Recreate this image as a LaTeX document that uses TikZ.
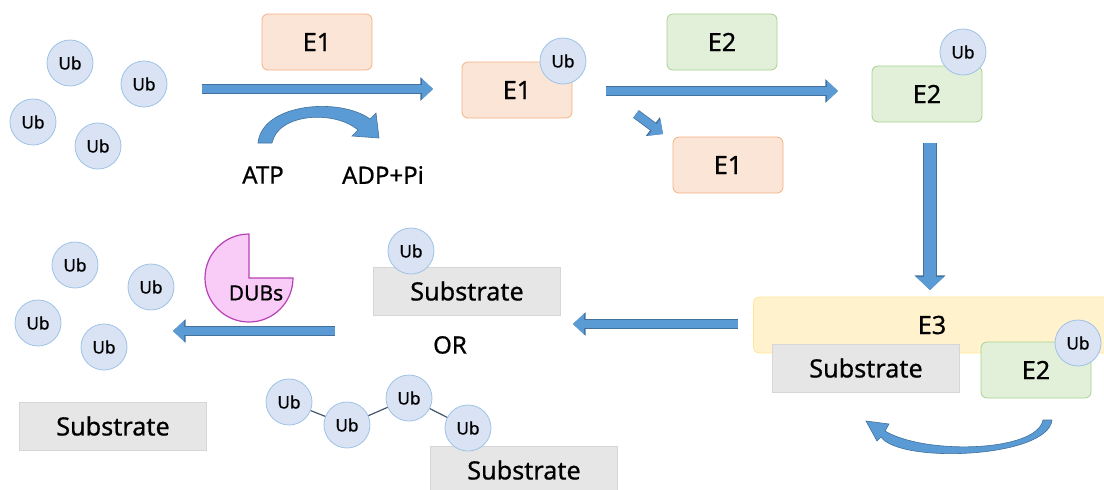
\documentclass[tikz,border=0pt]{standalone}
\usepackage{fontspec}
\setmainfont{Noto Sans}[FakeBold=0.7]
\usetikzlibrary{arrows.meta}

\definecolor{ub_fill}{HTML}{DAE3F3}
\definecolor{ub_edge}{HTML}{9DC3E6}
\definecolor{e1_fill}{HTML}{FBE5D6}
\definecolor{e1_edge}{HTML}{F4B183}
\definecolor{e2_fill}{HTML}{E2F0D9}
\definecolor{e2_edge}{HTML}{A9D18E}
\definecolor{e3_fill}{HTML}{FFF2CC}
\definecolor{e3_edge}{HTML}{FFE699}
\definecolor{sub_fill}{HTML}{E7E6E6}
\definecolor{sub_edge}{HTML}{D6D6D6}
\definecolor{dub_fill}{HTML}{F8CCF6}
\definecolor{dub_edge}{HTML}{B640B6}
\definecolor{flow_fill}{HTML}{5B9BD5}
\definecolor{flow_edge}{HTML}{41719C}
\definecolor{link_col}{HTML}{44546A}

\tikzset{
	blob/.style = {
		align=center,
		inner sep=0pt,
		text centered,
		font=\fontsize{12.6}{14}\selectfont
	},
	node_ub/.style = {
		blob,
		circle,
		draw=ub_edge,
		fill=ub_fill,
		minimum size=23pt,
		font=\fontsize{8.6}{10}\selectfont
	},
	node_enz/.style = {
		blob,
		rectangle,
		rounded corners=3pt,
		minimum width=55pt,
		minimum height=28pt
	},
	node_e1/.style = {
		node_enz,
		draw=e1_edge,
		fill=e1_fill
	},
	node_e2/.style = {
		node_enz,
		draw=e2_edge,
		fill=e2_fill
	},
	node_e3/.style = {
		node_enz,
		draw=e3_edge,
		fill=e3_fill,
		minimum width=178.5pt
	},
	node_sub/.style = {
		blob,
		rectangle,
		draw=sub_edge,
		fill=sub_fill,
		minimum width=93.5pt,
		minimum height=24pt
	},
	node_txt/.style = {
		blob,
		font=\fontsize{12}{14}\selectfont
	},
	flow/.style = {
		draw=flow_fill,
		line width=4pt,
		-{Triangle[width=10pt,length=5.5pt]},
		preaction={draw=flow_edge, line width=4.8pt, -{Triangle[width=11.4pt,length=6.3pt]}}
	},
	flow_big/.style = {
		draw=flow_fill,
		line width=6pt,
		-{Triangle[width=13.5pt,length=6.5pt]},
		preaction={draw=flow_edge, line width=6.8pt, -{Triangle[width=15pt,length=7.3pt]}}
	},
	bend_arrow/.style = {
		fill=flow_fill,
		draw=flow_edge,
		line width=0.3pt
	},
	chain_link/.style = {
		draw=link_col,
		line width=0.6pt
	},
}

\begin{document}
\begin{tikzpicture}[x=0.5pt,y=-0.5pt]
\useasboundingbox (0,0) rectangle (1104,489);

% free ubiquitin
\node [node_ub] (ub_a) at (70,63) {Ub};
\node [node_ub] (ub_b) at (144,84) {Ub};
\node [node_ub] (ub_c) at (33,122) {Ub};
\node [node_ub] (ub_d) at (98,146) {Ub};

% activation by E1
\node [node_e1] (e1_free) at (317,42) {E1};
\coordinate (a1_s) at (202,89);
\coordinate (a1_e) at (433,89);
\draw [flow] (a1_s) -- (a1_e);
\node [node_txt] (atp) at (263,175) {ATP};
\node [node_txt] (adp) at (383,175) {ADP+Pi};
\path [bend_arrow] (258,143) .. controls (262,103) and (340,97) .. (370,119)
	-- (376,113) -- (379,138) -- (352,136) -- (358,130)
	.. controls (335,110) and (278,113) .. (272,143) -- cycle;

% E1~Ub
\node [node_e1] (e1_ub) at (517,90) {E1};
\node [node_ub] (ub_e1) at (563,61) {Ub};

% transfer to E2
\node [node_e2] (e2_free) at (722,42) {E2};
\coordinate (a2_s) at (606,91);
\coordinate (a2_e) at (838,91);
\draw [flow] (a2_s) -- (a2_e);
\coordinate (a3_s) at (636,114);
\coordinate (a3_e) at (663,134);
\draw [flow] (a3_s) -- (a3_e);
\node [node_e1] (e1_back) at (728,165) {E1};

% E2~Ub
\node [node_e2] (e2_ub) at (927,94) {E2};
\node [node_ub] (ub_e2) at (963,52) {Ub};
\coordinate (a4_s) at (930,143);
\coordinate (a4_e) at (930,290);
\draw [flow_big] (a4_s) -- (a4_e);

% E3 complex
\node [node_e3] (e3) at (932,325) {E3};
\node [node_sub] (sub_e3) at (866,368) {Substrate};
\node [node_e2] (e2_e3) at (1036,370) {E2};
\node [node_ub] (ub_e3) at (1078,343) {Ub};
\path [bend_arrow] (1052,420) .. controls (1048,458) and (900,464) .. (881,437)
	-- (877,441) -- (866,421) -- (889,424) -- (885,431)
	.. controls (925,455) and (1037,452) .. (1043,420) -- cycle;

% mono- or poly-ubiquitinated substrate
\coordinate (a5_s) at (738,324);
\coordinate (a5_e) at (573,324);
\draw [flow] (a5_s) -- (a5_e);
\node [node_sub] (sub_mono) at (467,291) {Substrate};
\node [node_ub] (ub_mono) at (411,251) {Ub};
\node [node_txt] (or) at (450,345) {OR};
\node [node_sub] (sub_poly) at (524,470) {Substrate};
\node [node_ub] (ub_p1) at (289,402) {Ub};
\node [node_ub] (ub_p2) at (347,425) {Ub};
\node [node_ub] (ub_p3) at (409,398) {Ub};
\node [node_ub] (ub_p4) at (468,428) {Ub};
\draw [chain_link] (ub_p1) -- (ub_p2);
\draw [chain_link] (ub_p2) -- (ub_p3);
\draw [chain_link] (ub_p3) -- (ub_p4);

% deubiquitination
\filldraw [fill=dub_fill, draw=dub_edge, line width=0.6pt] (249,278) -- ++(44,0)
	arc [start angle=0, end angle=270, radius=44] -- cycle;
\node [blob, font=\fontsize{10.5}{12}\selectfont] (dubs) at (256,293) {DUBs};
\coordinate (a6_s) at (335,331);
\coordinate (a6_e) at (173,331);
\draw [flow] (a6_s) -- (a6_e);
\node [node_ub] (ub_e) at (75,265) {Ub};
\node [node_ub] (ub_f) at (151,287) {Ub};
\node [node_ub] (ub_g) at (38,323) {Ub};
\node [node_ub] (ub_h) at (104,347) {Ub};
\node [node_sub] (sub_free) at (113,426) {Substrate};
\end{tikzpicture}
\end{document}
